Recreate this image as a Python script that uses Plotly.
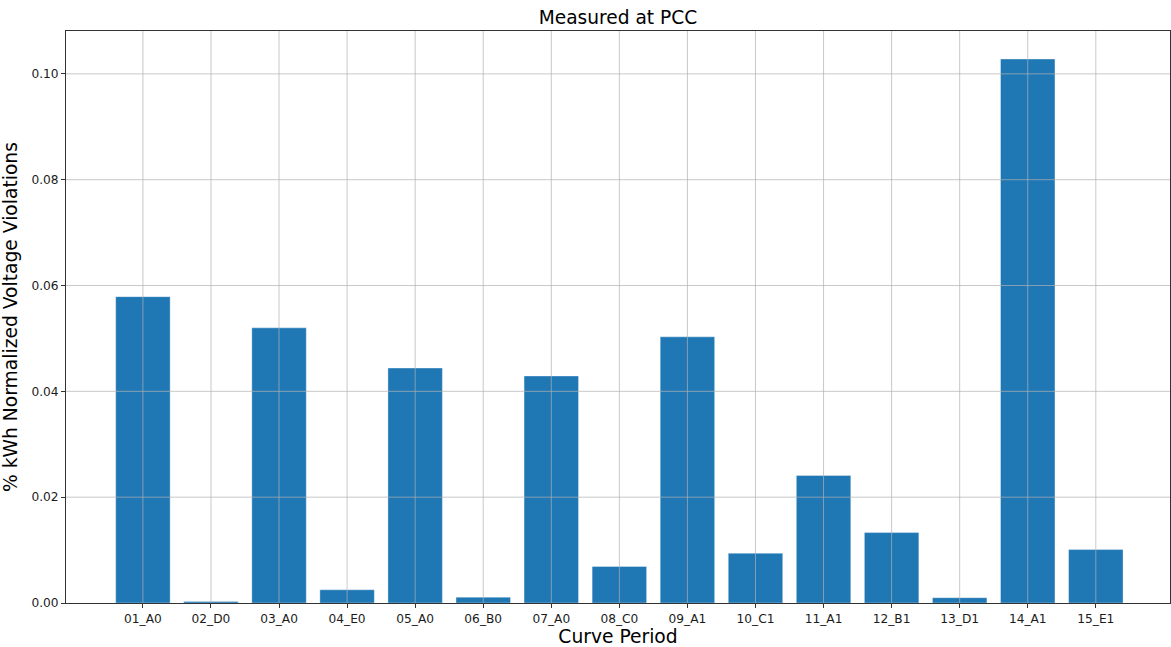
import plotly.graph_objects as go

# Curve periods and measured violation shares at the PCC
periods = ["01_A0", "02_D0", "03_A0", "04_E0", "05_A0", "06_B0", "07_A0", "08_C0",
           "09_A1", "10_C1", "11_A1", "12_B1", "13_D1", "14_A1", "15_E1"]
violations = [0.0579, 0.0003, 0.0520, 0.0025, 0.0444, 0.0011, 0.0429, 0.0069,
              0.0503, 0.0094, 0.0241, 0.0133, 0.0010, 0.1028, 0.0101]

y_ticks = [0.00, 0.02, 0.04, 0.06, 0.08, 0.10]

idx = list(range(len(periods)))

fig = go.Figure(go.Bar(
    x=idx, y=violations, width=0.8,
    marker=dict(color="#1f77b4", line=dict(color="rgba(255,255,255,0.35)", width=1)),
))

# grid drawn on top of the bars, as in matplotlib's default axes.grid
grid_col = "rgba(176,176,176,0.7)"
for i in idx:
    fig.add_shape(type="line", xref="x", yref="paper", x0=i, x1=i, y0=0, y1=1,
                  line=dict(color=grid_col, width=1), layer="above")
for v in y_ticks[1:]:
    fig.add_shape(type="line", xref="paper", yref="y", x0=0, x1=1, y0=v, y1=v,
                  line=dict(color=grid_col, width=1), layer="above")

font = "DejaVu Sans, Arial, sans-serif"
fig.update_layout(
    width=1171, height=647,
    margin=dict(l=66, r=1, t=31, b=44),
    paper_bgcolor="white", plot_bgcolor="white",
    font=dict(family=font, color="#1a1a1a", size=12),
    showlegend=False,
    title=dict(text="Measured at PCC", x=0.5, xref="paper", xanchor="center",
               y=1, yref="container", yanchor="top", pad=dict(t=11),
               font=dict(size=18.6, color="black")),
    bargap=0.2,
)
fig.update_xaxes(
    tickmode="array", tickvals=idx, ticktext=periods,
    range=[-1.13, 15.09],
    showgrid=False,
    showline=True, linecolor="#333333", linewidth=1, mirror=True,
    ticks="outside", ticklen=4, tickcolor="#333333",
    tickfont=dict(size=12.2, color="#1a1a1a"),
    title=dict(text="Curve Period", font=dict(size=18.7, color="black"), standoff=4),
    layer="above traces", zeroline=False,
)
fig.update_yaxes(
    tickmode="array", tickvals=y_ticks, ticktext=[f"{v:.2f}" for v in y_ticks],
    range=[0, 0.1081],
    showgrid=False,
    showline=True, linecolor="#333333", linewidth=1, mirror=True,
    ticks="outside", ticklen=4, tickcolor="#333333",
    tickfont=dict(size=12.2, color="#1a1a1a"),
    title=dict(text="% kWh Normalized Voltage Violations", font=dict(size=18.7, color="black"), standoff=8),
    layer="above traces", zeroline=False,
)

fig.write_html("out.html")
